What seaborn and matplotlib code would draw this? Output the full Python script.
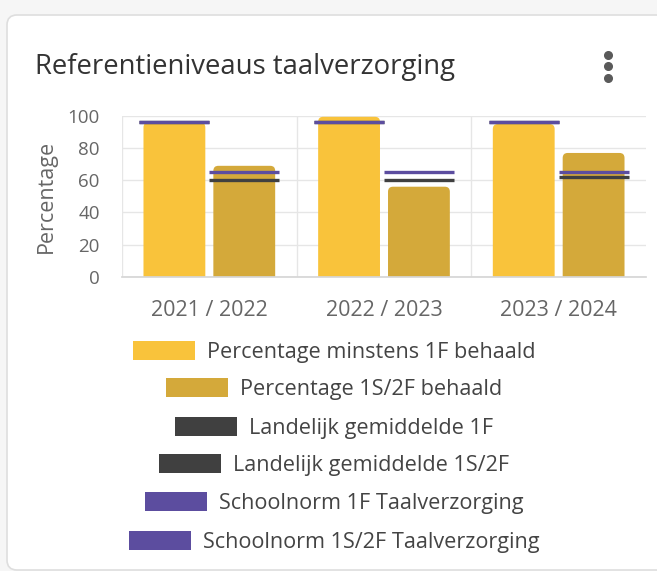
import numpy as np
import pandas as pd
import matplotlib.pyplot as plt
import seaborn as sns
from matplotlib.patches import FancyBboxPatch, Patch
from matplotlib.lines import Line2D

years = ["2021 / 2022", "2022 / 2023", "2023 / 2024"]
pct_1f = [96, 99.5, 95]
pct_2f = [69, 56, 77]
landelijk_1f = [96.5, 96.5, 96.5]
landelijk_2f = [60, 60, 62]
norm_1f = [96.5, 96.5, 96.5]
norm_2f = [65, 65, 65]

labels = ["Percentage minstens 1F behaald", "Percentage 1S/2F behaald",
          "Landelijk gemiddelde 1F", "Landelijk gemiddelde 1S/2F",
          "Schoolnorm 1F Taalverzorging", "Schoolnorm 1S/2F Taalverzorging"]
colors = ["#f9c33b", "#d4a93a", "#404040", "#404040", "#5c4d9f", "#5c4d9f"]

sns.set_theme(style="white")
plt.rcParams["font.family"] = ["Open Sans", "DejaVu Sans"]

df = pd.DataFrame({
    "jaar": years * 2,
    "reeks": [labels[0]] * 3 + [labels[1]] * 3,
    "waarde": pct_1f + pct_2f,
})

W, H = 657, 571
fig = plt.figure(figsize=(W / 100, H / 100), dpi=100)
fig.patch.set_facecolor("#f6f6f6")

# card background
card = FancyBboxPatch((0.07, 0.01), 6.7, 5.55, boxstyle="round,pad=0,rounding_size=0.1",
                      transform=fig.dpi_scale_trans, facecolor="white",
                      edgecolor="#dedede", linewidth=1.2, zorder=-5)
fig.patches.append(card)

fig.text(35 / W, 1 - 67 / H, "Referentieniveaus taalverzorging", fontsize=19.8,
         color="#333333", va="center", ha="left")
# kebab menu
fig.add_artist(Line2D([607.5 / W] * 3, [1 - 54.5 / H, 1 - 66 / H, 1 - 77.5 / H],
                      transform=fig.transFigure, ls="none", marker="o",
                      ms=5.5, color="#5a5a5a"))

ax_l, ax_r, ax_t, ax_b = 122, 646, 116, 276.7
ax = fig.add_axes([ax_l / W, 1 - ax_b / H, (ax_r - ax_l) / W, (ax_b - ax_t) / H])
ax.set_facecolor("none")

sns.barplot(data=df, x="jaar", y="waarde", hue="reeks", palette=colors[:2],
            width=0.8, gap=0.115, saturation=1, legend=False, ax=ax, zorder=2)
ax.set_xlim(-0.5, len(years) - 0.5)
ax.set_ylim(0, 100)

# rounded bar tops
px_x = (ax_r - ax_l) / len(years)
px_y = (ax_b - ax_t) / 100
r_px = 5
r = r_px / px_x
asp = px_x / px_y
for p in list(ax.patches):
    x0, w, h = p.get_x(), p.get_width(), p.get_height()
    fc = p.get_facecolor()
    p.remove()
    ax.add_patch(FancyBboxPatch((x0, -r * asp), w, h + r * asp,
                                boxstyle=f"round,pad=0,rounding_size={r}",
                                mutation_aspect=asp, facecolor=fc,
                                edgecolor="none", zorder=2))

x = np.arange(len(years))
ax.hlines(landelijk_1f, x - 0.4, x, colors=colors[2], lw=2.4, zorder=3)
ax.hlines(landelijk_2f, x, x + 0.4, colors=colors[3], lw=2.4, zorder=3)
ax.hlines(norm_1f, x - 0.4, x, colors=colors[4], lw=2.4, zorder=4)
ax.hlines(norm_2f, x, x + 0.4, colors=colors[5], lw=2.4, zorder=4)

ax.set_yticks(range(0, 101, 20))
ax.set_xticks([-0.5, 0.5, 1.5], minor=True)
ax.grid(axis="y", color="#e6e6e6", lw=1, zorder=0)
ax.grid(axis="x", which="minor", color="#e6e6e6", lw=1, zorder=0)
ax.set_axisbelow(True)
for s in ["top", "right", "left"]:
    ax.spines[s].set_visible(False)
ax.spines["bottom"].set_color("#d6d6d6")
ax.tick_params(axis="y", length=12, color="#e6e6e6", labelsize=13.5, labelcolor="#666666", pad=4)
ax.tick_params(axis="x", which="major", length=0, labelsize=15.5, labelcolor="#666666", pad=17)
ax.tick_params(axis="x", which="minor", length=10, color="#e6e6e6")
ax.set_xlabel("")
ax.set_ylabel("Percentage", fontsize=15.5, color="#666666", labelpad=8)

row_y = [352, 389, 428, 465, 503, 542]
for lab, c, yy in zip(labels, colors, row_y):
    fig.legend(handles=[Patch(facecolor=c, edgecolor="none")], labels=[lab],
               loc="center", bbox_to_anchor=(334 / W, 1 - yy / H), frameon=False,
               fontsize=15.6, labelcolor="#444444", handlelength=2.86,
               handleheight=1.0, handletextpad=0.55, borderpad=0)

fig.savefig("out.png", dpi=100, facecolor=fig.get_facecolor())
